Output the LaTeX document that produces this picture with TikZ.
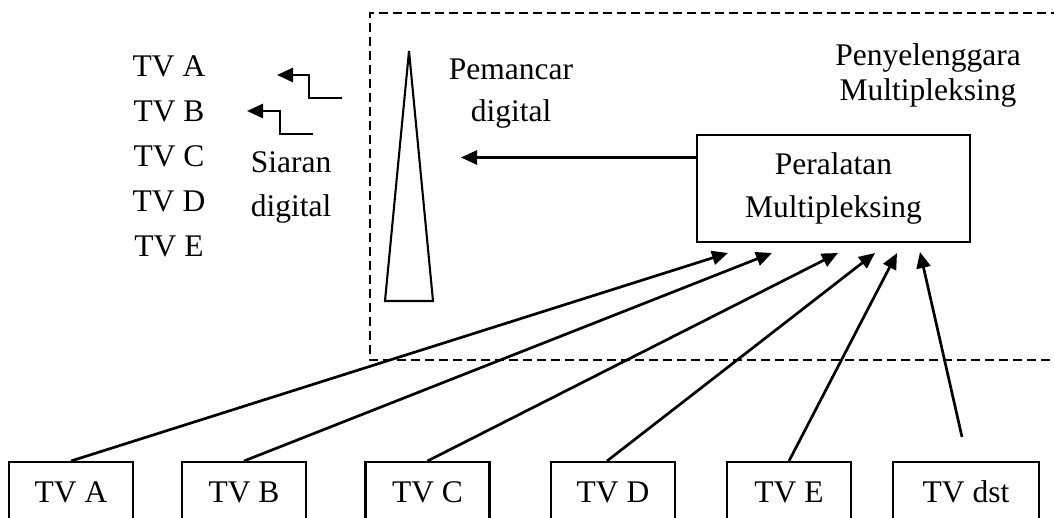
\documentclass[tikz,border=0pt]{standalone}
\usepackage{fontspec}
\setmainfont{Liberation Serif}
\usetikzlibrary{arrows.meta}
\begin{document}
\begin{tikzpicture}[x=1pt,y=-1pt,
  txt/.style={font=\fontsize{31.5}{43}\selectfont, inner sep=0pt, align=center},
  box/.style={draw, line width=2.1pt, inner sep=0pt, align=center,
              font=\fontsize{31.5}{43}\selectfont},
  tvbox/.style={box, minimum width=124pt, minimum height=60pt, anchor=north},
  feed/.style={line width=2.7pt, -{Triangle[length=16pt,width=14pt]}},
  frame/.style={line width=2pt, dash pattern=on 9pt off 5pt},
]
\path[use as bounding box, clip] (0,0) rectangle (1054,518);
\fill[white] (0,0) rectangle (1054,518);

% operator area (open to the right)
\draw[frame] (1060,13) -- (370,13) -- (370,360) -- (1060,360);

% transmitter mast
\draw[line width=2.1pt] (409,51) -- (433,301) -- (385,301) -- cycle;

% labels
\node[txt, font=\fontsize{31.5}{42}\selectfont] (pem) at (511,93.5) {Pemancar\\digital};
\node[txt, font=\fontsize{31.5}{35}\selectfont] (pen) at (928,75) {Penyelenggara\\Multipleksing};
\node[txt, font=\fontsize{31.5}{44}\selectfont] (sia) at (291,187.5) {Siaran\\digital};

% channels carried by the broadcast
\node[txt, anchor=base] (la) at (169,77)  {TV A};
\node[txt, anchor=base] (lb) at (169,122) {TV B};
\node[txt, anchor=base] (lc) at (169,167) {TV C};
\node[txt, anchor=base] (ld) at (169,212) {TV D};
\node[txt, anchor=base] (le) at (169,257) {TV E};

% multiplexer
\node[box, minimum width=273pt, minimum height=107pt] (mux) at (833.5,188.5) {Peralatan\\Multipleksing};

% broadcasters
\node[tvbox] (ta) at (71,461)    {TV A};
\node[tvbox] (tb) at (244,461)   {TV B};
\node[tvbox] (tc) at (427.5,461) {TV C};
\node[tvbox] (td) at (613,461)   {TV D};
\node[tvbox] (te) at (789,461)   {TV E};
\node[tvbox, minimum width=146pt] (tf) at (966,461) {TV dst};

% multiplexer inputs
\coordinate (ia) at (728,253);
\coordinate (ib) at (772,253);
\coordinate (ic) at (838,253);
\coordinate (id) at (875,253);
\coordinate (ie) at (897,253);
\coordinate (if) at (920,252);
\draw[feed] (ta.north) -- (ia);
\draw[feed] (tb.north) -- (ib);
\draw[feed] (tc.north) -- (ic);
\draw[feed] ([xshift=-6pt]td.north) -- (id);
\draw[feed] (te.north) -- (ie);
\draw[feed] ([shift={(-4pt,24pt)}]tf.north) -- (if);

% multiplexer to transmitter
\coordinate (tx) at (461,157.5);
\draw[feed] (mux.west |- tx) -- (tx);

% broadcast signal steps
\coordinate (s1) at (342,98);
\coordinate (z1) at (277,75);
\draw[feed] (s1) -- ++(-33,0) -- ++(0,-23) -- (z1);
\coordinate (s2) at (313,134);
\coordinate (z2) at (247,111);
\draw[feed] (s2) -- ++(-33,0) -- ++(0,-23) -- (z2);
\end{tikzpicture}
\end{document}
